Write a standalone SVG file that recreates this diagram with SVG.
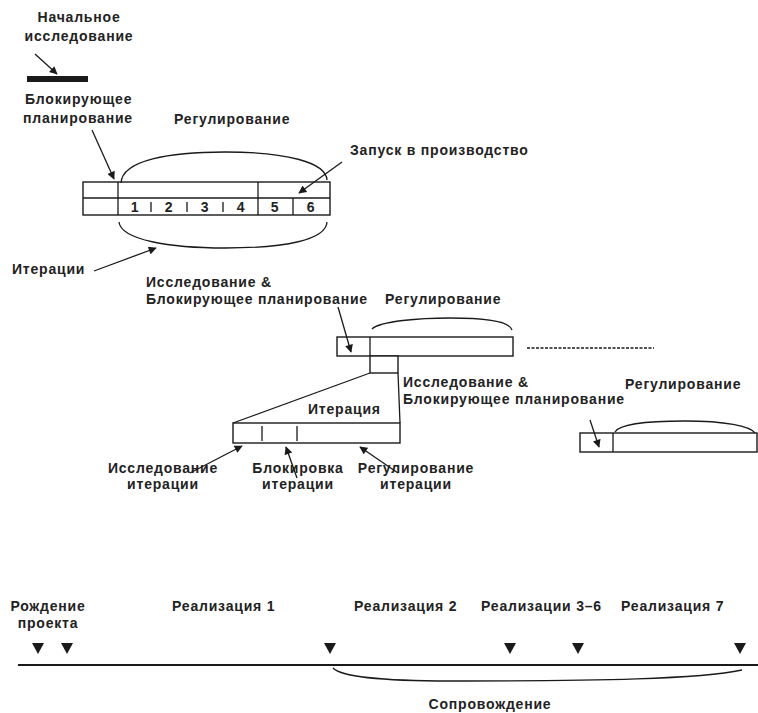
<svg xmlns="http://www.w3.org/2000/svg" width="758" height="713" viewBox="0 0 758 713">
<defs>
<style>
text{font-family:"Liberation Sans",Arial,sans-serif;font-size:14px;font-weight:bold;fill:#222;letter-spacing:0.8px}
.m{text-anchor:middle}
.ln{stroke:#1a1a1a;stroke-width:1.3;fill:none}
.bx{stroke:#1a1a1a;stroke-width:1.4;fill:#fff}
.tri{fill:#1a1a1a}
</style>
<marker id="ah" viewBox="0 0 10 10" refX="9" refY="5" markerWidth="9" markerHeight="8" orient="auto" markerUnits="userSpaceOnUse">
<path d="M0,0 L10,5 L0,10 z" fill="#1a1a1a"/>
</marker>
</defs>
<rect width="758" height="713" fill="#fff"/>

<g id="initial-research">
<text class="m" x="79" y="22">Начальное</text>
<text class="m" x="79" y="41">исследование</text>
<rect x="27" y="76" width="61" height="6" fill="#1a1a1a"/>
</g>

<g id="blocking-planning-label">
<text x="25" y="104">Блокирующее</text>
<text x="23" y="123">планирование</text>
</g>

<g id="top-project">
<text x="174" y="124">Регулирование</text>
<text x="350" y="155">Запуск в производство</text>
<rect class="bx" x="83" y="182" width="247" height="33"/>
<line class="ln" x1="83" y1="198" x2="330" y2="198"/>
<line class="ln" x1="118" y1="182" x2="118" y2="215"/>
<line class="ln" x1="258" y1="182" x2="258" y2="215"/>
<line class="ln" x1="293" y1="198" x2="293" y2="215"/>
<line class="ln" x1="151" y1="202" x2="151" y2="212"/>
<line class="ln" x1="187" y1="202" x2="187" y2="212"/>
<line class="ln" x1="223" y1="202" x2="223" y2="212"/>
<text class="m" x="135" y="212">1</text>
<text class="m" x="169" y="212">2</text>
<text class="m" x="205" y="212">3</text>
<text class="m" x="241" y="212">4</text>
<text class="m" x="275" y="212">5</text>
<text class="m" x="311" y="212">6</text>
<path class="ln" d="M121,183 C122,160 170,152 225,152 C285,152 326,162 327,180"/>
<path class="ln" d="M119,222 C121,240 170,248 225,248 C285,248 326,240 327,222"/>
<text x="12" y="274">Итерации</text>
</g>

<g id="second-project">
<text x="146" y="287">Исследование &amp;</text>
<text x="146" y="304">Блокирующее планирование</text>
<text x="385" y="304">Регулирование</text>
<rect class="bx" x="337" y="337" width="176" height="19"/>
<line class="ln" x1="370" y1="337" x2="370" y2="356"/>
<path class="ln" d="M372,329 C380,321 420,318 450,318 C490,318 510,322 512,330"/>
<rect class="bx" x="370" y="356" width="28" height="17"/>
<line class="ln" x1="527" y1="348" x2="654" y2="348" stroke-dasharray="3,1.5" stroke-width="3.5"/>
</g>

<g id="iteration">
<line class="ln" x1="370" y1="373" x2="233" y2="423"/>
<line class="ln" x1="398" y1="373" x2="400" y2="423"/>
<text x="308" y="414">Итерация</text>
<rect class="bx" x="233" y="423" width="167" height="20"/>
<line class="ln" x1="262" y1="426" x2="262" y2="441"/>
<line class="ln" x1="297" y1="426" x2="297" y2="441"/>
<text class="m" x="163" y="473">Исследование</text>
<text class="m" x="163" y="489">итерации</text>
<text class="m" x="298" y="473">Блокировка</text>
<text class="m" x="298" y="489">итерации</text>
<text class="m" x="416" y="473">Регулирование</text>
<text class="m" x="416" y="489">итерации</text>
</g>

<g id="third-project">
<text x="403" y="387">Исследование &amp;</text>
<text x="403" y="404">Блокирующее планирование</text>
<text x="625" y="389">Регулирование</text>
<rect class="bx" x="580" y="433" width="177" height="19"/>
<line class="ln" x1="613" y1="433" x2="613" y2="452"/>
<path class="ln" d="M615,432 C620,423 650,421 685,421 C725,421 750,426 755,433"/>
</g>

<g id="timeline">
<text class="m" x="48" y="611">Рождение</text>
<text class="m" x="48" y="628">проекта</text>
<text x="172" y="611">Реализация 1</text>
<text x="354" y="611">Реализация 2</text>
<text x="481" y="611">Реализации 3–6</text>
<text x="621" y="611">Реализация 7</text>
<line x1="18" y1="665" x2="758" y2="665" stroke="#1a1a1a" stroke-width="2"/>
<path class="tri" d="M32,643 h12 l-6,11 z"/>
<path class="tri" d="M61,643 h12 l-6,11 z"/>
<path class="tri" d="M324,643 h12 l-6,11 z"/>
<path class="tri" d="M504,643 h12 l-6,11 z"/>
<path class="tri" d="M572,643 h12 l-6,11 z"/>
<path class="tri" d="M734,643 h12 l-6,11 z"/>
<path class="ln" d="M333,668 C340,676 380,681 450,681 C600,681 700,679 742,670"/>
<text class="m" x="490" y="709">Сопровождение</text>
</g>

<g id="connectors">
<line class="ln" x1="35" y1="54" x2="57" y2="74" marker-end="url(#ah)"/>
<line class="ln" x1="92" y1="130" x2="114" y2="179" marker-end="url(#ah)"/>
<line class="ln" x1="342" y1="162" x2="299" y2="193" marker-end="url(#ah)"/>
<line class="ln" x1="94" y1="271" x2="156" y2="248" marker-end="url(#ah)"/>
<line class="ln" x1="338" y1="307" x2="351" y2="352" marker-end="url(#ah)"/>
<line class="ln" x1="590" y1="420" x2="599" y2="447" marker-end="url(#ah)"/>
<line class="ln" x1="190" y1="473" x2="242" y2="446" marker-end="url(#ah)"/>
<line class="ln" x1="297" y1="478" x2="286" y2="447" marker-end="url(#ah)"/>
<line class="ln" x1="398" y1="473" x2="360" y2="447" marker-end="url(#ah)"/>
</g>
</svg>
